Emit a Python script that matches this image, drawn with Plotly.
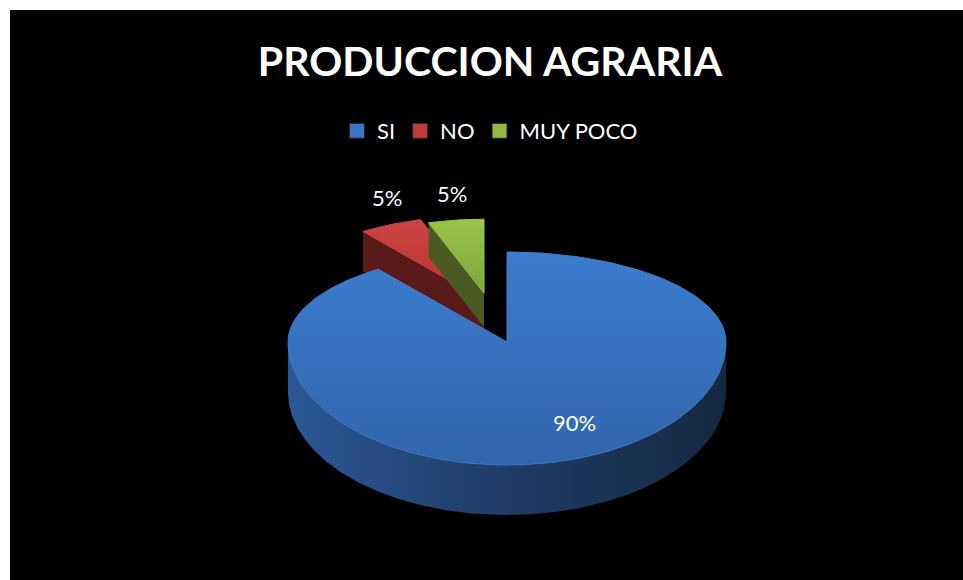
import numpy as np
import plotly.graph_objects as go

# ---- data ----
categories = ["SI", "NO", "MUY POCO"]
values = [90, 5, 5]
title_text = "PRODUCCION AGRARIA"

# ---- styles ----
TOP_COLORS = [("#3d7cce", "#3165ab"), ("#cc4442", "#b63433"), ("#9bc44a", "#7fa63a")]
SIDE_COLORS = [("#2b5896", "#1f3c66", "#152842"), ("#6a1f1e", "#5a1a19", "#4a1514"),
               ("#55662a", "#4a5a22", "#3c4a1b")]
LEGEND_COLORS = ["#3a74c2", "#c23c3b", "#90b843"]
# per slice projection style: apex x, apex y, scale, depth
SLICE_STYLE = [(507, 342, 1.0, 50), (484, 300, 0.94, 40), (484, 293, 0.82, 34)]
A, BT, BF = 219, 90, 123

total = float(sum(values))


def pt(th, cx, cy, s):
    r = np.radians(th)
    sn = np.sin(r)
    b = BT if sn > 0 else BF
    return cx + s * A * np.cos(r), cy - s * b * sn


def arc(t0, t1, cx, cy, s, n=None):
    if n is None:
        n = max(4, int(abs(t1 - t0) / 1.5))
    ts = np.linspace(t0, t1, n)
    xs, ys = zip(*[pt(t, cx, cy, s) for t in ts])
    return list(xs), list(ys), ts


fig = go.Figure()

angle = 90.0
slices = []
for i, v in enumerate(values):
    ts_ = angle
    te_ = angle - 360.0 * v / total
    slices.append((ts_, te_))
    angle = te_

draw_order = [1, 2, 0]
for i in draw_order:
    ts_, te_ = slices[i]
    cx, cy, s, D = SLICE_STYLE[i]
    sc = SIDE_COLORS[i]
    # radial faces
    for th, vis in ((ts_, np.cos(np.radians(ts_)) < -1e-6), (te_, np.cos(np.radians(te_)) > 1e-6)):
        if vis:
            ox, oy = pt(th, cx, cy, s)
            fig.add_trace(go.Scatter(
                x=[cx, ox, ox, cx, cx], y=[cy, oy, oy + D, cy + D, cy],
                mode="lines", fill="toself", fillcolor=sc[1],
                line=dict(width=0, color=sc[1]), hoverinfo="skip", showlegend=False))
    # outer wall, front part only
    xs, ys, tt = arc(ts_, te_, cx, cy, s, n=400)
    front = np.sin(np.radians(tt)) < 0
    idx = np.where(front)[0]
    if len(idx) > 1:
        fx = [xs[k] for k in idx]
        fy = [ys[k] for k in idx]
        px = fx + fx[::-1] + [fx[0]]
        py = fy + [y + D for y in fy[::-1]] + [fy[0]]
        fig.add_trace(go.Scatter(
            x=px, y=py, mode="lines", fill="toself",
            fillgradient=dict(type="horizontal",
                              colorscale=[[0, sc[0]], [0.5, sc[1]], [1, sc[2]]]),
            line=dict(width=0, color=sc[1]), hoverinfo="skip", showlegend=False))
    # top face
    xs, ys, _ = arc(ts_, te_, cx, cy, s)
    tc = TOP_COLORS[i]
    fig.add_trace(go.Scatter(
        x=[cx] + xs + [cx], y=[cy] + ys + [cy], mode="lines", fill="toself",
        fillgradient=dict(type="vertical", colorscale=[[0, tc[1]], [1, tc[0]]]),
        line=dict(width=1, color=tc[0]), hoverinfo="skip", showlegend=False))

# percentage labels
for i, v in enumerate(values):
    ts_, te_ = slices[i]
    cx, cy, s, D = SLICE_STYLE[i]
    mid = (ts_ + te_) / 2.0
    txt = f"{v / total * 100:.0f}%"
    if i == 0:
        r = np.radians(mid)
        lx = cx + A * np.cos(r) * 1.0
        ly = cy - BF * np.sin(r) * 0.69
    else:
        ox, oy = pt(mid, cx, cy, s)
        lx, ly = ox - 4, oy - 27
    fig.add_annotation(x=lx, y=ly, text=txt, showarrow=False,
                       font=dict(family="Lato", size=22, color="white"))

# legend entries
for name, col in zip(categories, LEGEND_COLORS):
    fig.add_trace(go.Scatter(x=[None], y=[None], mode="markers", name=name,
                             marker=dict(symbol="square", size=15, color=col,
                                         line=dict(width=1, color="#222222"))))

fig.update_layout(
    width=963, height=580,
    margin=dict(l=0, r=0, t=0, b=0),
    paper_bgcolor="white", plot_bgcolor="white",
    xaxis=dict(range=[0, 963], visible=False, fixedrange=True),
    yaxis=dict(range=[580, 0], visible=False, fixedrange=True),
    title=dict(text=f"<b>{title_text}</b>", x=490 / 963, xanchor="center",
               y=1 - 62 / 580, yanchor="middle",
               font=dict(family="Lato", size=41, color="white")),
    legend=dict(orientation="h", x=490 / 963, xanchor="center",
                y=1 - 131 / 580, yanchor="middle",
                font=dict(family="Lato", size=22, color="white"),
                bgcolor="rgba(0,0,0,0)", itemclick=False, itemdoubleclick=False),
    shapes=[dict(type="rect", xref="x", yref="y", x0=10, x1=963, y0=10, y1=580,
                 fillcolor="black", line=dict(width=0), layer="below")],
    showlegend=True,
)

fig.write_html("out.html", config={"displayModeBar": False},
               post_script="document.body.style.margin='0';")
